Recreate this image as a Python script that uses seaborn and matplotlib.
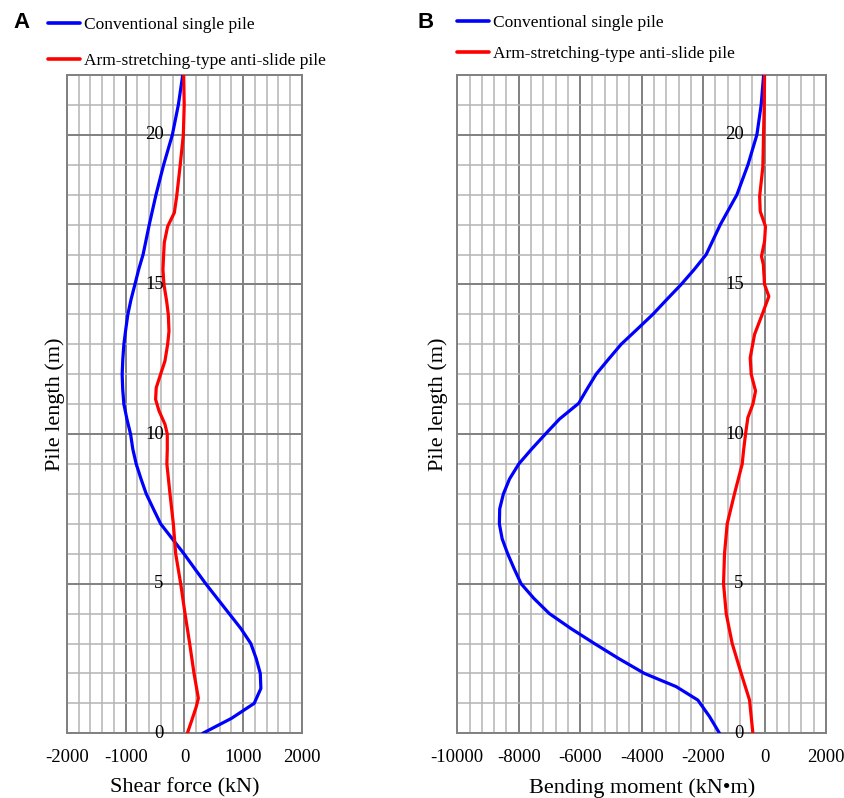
import numpy as np
import pandas as pd
import matplotlib
matplotlib.use("Agg")
import matplotlib.pyplot as plt
from matplotlib.ticker import MultipleLocator
import seaborn as sns

sns.set_style("white")
plt.rcParams["font.family"] = ["Liberation Serif", "DejaVu Serif"]
plt.rcParams["axes.unicode_minus"] = False
plt.rcParams["text.color"] = "black"
plt.rcParams["axes.labelcolor"] = "black"
plt.rcParams["xtick.color"] = "black"
plt.rcParams["ytick.color"] = "black"

# Panel A: shear force (kN) along pile length (m)
shear_conv_depth = [0, 0.5, 1.0, 1.5, 2.0, 2.5, 3.0, 3.5, 4.0, 4.5, 5.0, 5.5, 6.0, 6.4,
                    7.0, 7.5, 8.0, 8.5, 9.0, 9.5, 10.0, 10.5, 11.0, 11.5, 12.0, 12.5,
                    13.0, 13.5, 14.0, 14.5, 15.0, 15.5, 16.0, 17.0, 18.0, 19.0, 20.0, 21.0, 22.0]
shear_conv = [310, 800, 1186, 1300, 1290, 1220, 1129, 960, 760, 560, 361, 175, -9, -168,
              -406, -530, -651, -740, -822, -880, -918, -980, -1032, -1052, -1061, -1050,
              -1032, -1000, -964, -910, -844, -780, -705, -600, -485, -355, -207, -105, -30]

shear_arm_depth = [0, 0.44, 0.9, 1.17, 2.0, 3.0, 4.0, 5.0, 6.0, 7.0, 8.0, 9.0, 9.5, 10.0,
                   10.33, 10.78, 11.16, 11.55, 12.0, 12.44, 13.0, 13.44, 14.0, 14.44, 15.0,
                   15.5, 16.0, 16.4, 16.94, 17.4, 17.94, 18.94, 20.0, 21.0, 22.0]
shear_arm = [48, 125, 202, 236, 162, 88, 9, -65, -150, -190, -247, -300, -293, -293,
             -333, -435, -492, -481, -407, -333, -287, -264, -276, -304, -350,
             -367, -355, -344, -287, -173, -133, -76, -20, -5, -14]

# Panel B: bending moment (kN*m) along pile length (m)
moment_conv_depth = [0, 0.56, 1.11, 1.56, 2.0, 2.5, 3.0, 3.5, 4.0, 4.5, 5.0, 5.5, 6.0, 6.5,
                     7.0, 7.5, 8.0, 8.5, 9.0, 9.5, 10.0, 10.5, 11.03, 11.5, 12.0, 12.5,
                     13.0, 13.5, 14.0, 14.5, 15.0, 15.5, 16.0, 17.0, 18.0, 19.0, 20.0, 21.0, 22.0]
moment_conv = [-1466, -1791, -2171, -2877, -3908, -4750, -5537, -6300, -7003, -7500, -7925,
               -8150, -8360, -8540, -8631, -8620, -8500, -8300, -8000, -7580, -7133, -6677,
               -6047, -5780, -5483, -5080, -4668, -4150, -3637, -3180, -2714, -2290, -1900,
               -1440, -900, -540, -250, -110, -30]

moment_arm_depth = [0, 1.11, 2.0, 3.0, 4.0, 5.0, 6.0, 7.0, 8.0, 9.0, 9.44, 10.0, 10.55,
                    11.0, 11.44, 12.0, 12.55, 13.33, 14.0, 14.6, 15.0, 15.67, 15.94, 16.44,
                    16.94, 17.44, 17.94, 18.94, 20.0, 21.0, 22.0]
moment_arm = [-380, -489, -760, -1053, -1248, -1335, -1303, -1216, -980, -727, -684, -619,
              -543, -380, -293, -434, -467, -326, -76, 140, 0, -40, -100, 0,
              30, -140, -160, -55, -33, -10, 0]

labels = ["Conventional single pile", "Arm-stretching-type anti-slide pile"]
ytick_vals = [0, 5, 10, 15, 20]

fig = plt.figure(figsize=(8.45, 7.98), dpi=100)
axA = fig.add_axes([67 / 845, 64.7 / 798, 235 / 845, 658.3 / 798])
axB = fig.add_axes([457.3 / 845, 64.7 / 798, 368.7 / 845, 658.3 / 798])


def draw_panel(ax, conv_d, conv_v, arm_d, arm_v, xlim, xmajor, xminor, xlabel, ylabpad,
               leg_anchor, leg_spacing):
    sns.lineplot(x=conv_v, y=conv_d, sort=False, estimator=None, color="#0000ff",
                 linewidth=2.3, label=labels[0], ax=ax, zorder=3)
    sns.lineplot(x=arm_v, y=arm_d, sort=False, estimator=None, color="#ff0000",
                 linewidth=2.3, label=labels[1], ax=ax, zorder=3)
    ax.set_xlim(*xlim)
    ax.set_ylim(0, 22)
    ax.xaxis.set_major_locator(MultipleLocator(xmajor))
    ax.xaxis.set_minor_locator(MultipleLocator(xminor))
    ax.yaxis.set_major_locator(MultipleLocator(5))
    ax.yaxis.set_minor_locator(MultipleLocator(1))
    ax.grid(which="minor", color="#b4b4b4", linewidth=1.1, zorder=0)
    ax.grid(which="major", color="#808080", linewidth=1.4, zorder=0)
    ax.set_axisbelow(True)
    for sp in ax.spines.values():
        sp.set_color("#808080")
        sp.set_linewidth(1.4)
    ax.tick_params(which="both", length=0)
    ax.tick_params(axis="x", labelsize=13.5, pad=11)
    ax.set_yticklabels([])
    for v in ytick_vals:
        ax.annotate(str(v), xy=(0, v), xytext=(-15, 0), textcoords="offset points",
                    ha="right", va="center", fontsize=13.5, zorder=4)
    ax.set_xlabel(xlabel, fontsize=16, labelpad=9)
    ax.set_ylabel("Pile length (m)", fontsize=16, labelpad=ylabpad)
    leg = ax.legend(loc="center left", bbox_to_anchor=leg_anchor,
                    bbox_transform=fig.transFigure, frameon=False, fontsize=12.5,
                    handlelength=1.85, handletextpad=0.2, labelspacing=leg_spacing,
                    borderpad=0, borderaxespad=0)
    for line in leg.get_lines():
        line.set_linewidth(2.6)


draw_panel(axA, shear_conv_depth, shear_conv, shear_arm_depth, shear_arm,
           (-2000, 2000), 1000, 200, "Shear force (kN)", -2,
           (48 / 845, 1 - 43 / 798), 1.13)
draw_panel(axB, moment_conv_depth, moment_conv, moment_arm_depth, moment_arm,
           (-10000, 2000), 2000, 400, "Bending moment (kN\u2022m)", 3,
           (457 / 845, 1 - 38.5 / 798), 0.84)

fig.text(13 / 845, 1 - 23 / 798, "A", fontsize=16, fontweight="bold",
         family="Liberation Sans", va="center", ha="left")
fig.text(418 / 845, 1 - 23 / 798, "B", fontsize=16, fontweight="bold",
         family="Liberation Sans", va="center", ha="left")

fig.savefig("out.png", dpi=100)
